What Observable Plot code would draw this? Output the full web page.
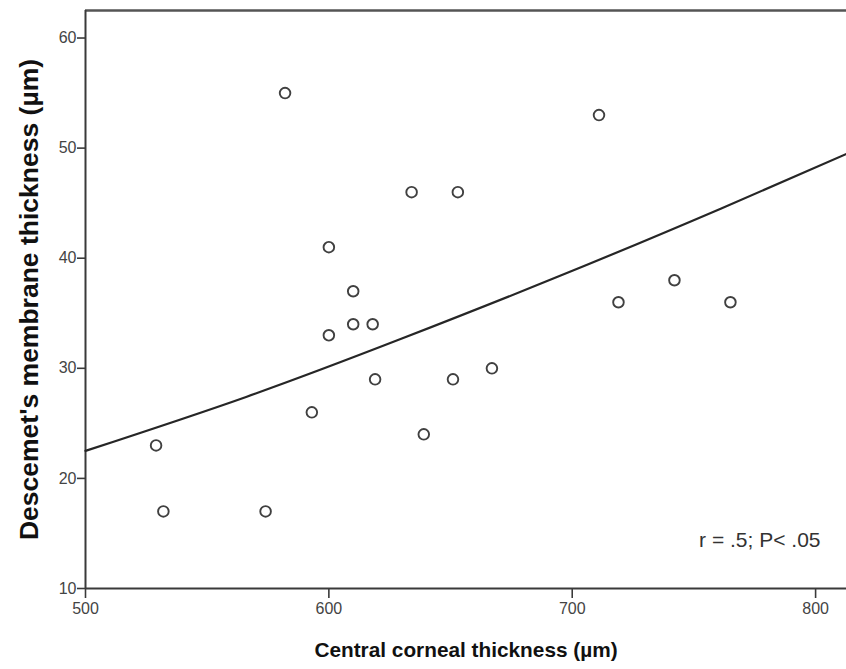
<!DOCTYPE html>
<html>
<head>
<meta charset="utf-8">
<script src="https://cdn.jsdelivr.net/npm/d3@7"></script>
<script src="https://cdn.jsdelivr.net/npm/@observablehq/plot@0.6"></script>
<style>
  html, body { margin: 0; padding: 0; background: #fff; }
  #chart svg { display: block; }
  #chart svg g[aria-label="x-axis tick label"],
  #chart svg g[aria-label="y-axis tick label"] { font-size: 16px; }
</style>
</head>
<body>
<div id="chart"></div>
<script>
// Scatter points: central corneal thickness (µm) vs Descemet's membrane thickness (µm)
const cct = [529, 532, 574, 582, 593, 600, 600, 610, 610, 618, 619, 634, 639, 651, 653, 667, 711, 719, 742, 765];
const dmt = [23, 17, 17, 55, 26, 41, 33, 37, 34, 34, 29, 46, 24, 29, 46, 30, 53, 36, 38, 36];

// Fit curve
const fitX = [500, 566, 630, 695, 761, 813];
const fitY = [22.5, 27.4, 32.7, 38.4, 44.5, 49.5];

const xTicks = [500, 600, 700, 800];
const yTicks = [10, 20, 30, 40, 50, 60];
const xDomain = [500, 812.7];
const yDomain = [10, 62.5];

const xLabel = "Central corneal thickness (µm)";
const yLabel = "Descemet's membrane thickness (µm)";
const note = "r = .5; P< .05";

const points = cct.map((x, i) => ({x, y: dmt[i]}));
const fit = fitX.map((x, i) => ({x, y: fitY[i]}));

const ink = "#3a3a3a";
const sans = "'Liberation Sans', Arial, sans-serif";

const chart = Plot.plot({
  width: 846,
  height: 669,
  marginLeft: 85,
  marginTop: 10,
  marginRight: 0,
  marginBottom: 81,
  style: {background: "#fff", color: ink, fontFamily: sans, fontSize: "16px"},
  x: {domain: xDomain},
  y: {domain: yDomain},
  marks: [
    Plot.axisY({ticks: yTicks, tickSize: 8, tickPadding: 1, tickFormat: d => d, fontSize: 16, fill: "#444", label: null, stroke: ink, strokeWidth: 1.6}),
    Plot.axisX({ticks: xTicks, tickSize: 10, tickPadding: 4, tickFormat: d => d, fontSize: 16, fill: "#444", label: null, stroke: ink, strokeWidth: 1.6}),
    Plot.ruleY([yDomain[0]], {stroke: ink, strokeWidth: 2}),
    Plot.ruleY([yDomain[1]], {stroke: "#555", strokeWidth: 2.5}),
    Plot.ruleX([xDomain[0]], {stroke: ink, strokeWidth: 2}),
    Plot.line(fit, {x: "x", y: "y", curve: "natural", stroke: "#262626", strokeWidth: 2.2}),
    Plot.dot(points, {x: "x", y: "y", r: 5.3, stroke: "#404040", strokeWidth: 1.9, fill: "none"}),
    Plot.text([note], {frameAnchor: "bottom-right", dx: -26, dy: -48, lineAnchor: "middle", textAnchor: "end", fontSize: 21, fill: "#333", fontFamily: sans}),
    Plot.text([yLabel], {frameAnchor: "left", dx: -56, rotate: -90, textAnchor: "middle", lineAnchor: "middle", fontSize: 26.5, fontWeight: "bold", fill: "#111", fontFamily: sans}),
    Plot.text([xLabel], {frameAnchor: "bottom", dy: 62, textAnchor: "middle", lineAnchor: "middle", fontSize: 20.8, fontWeight: "bold", fill: "#111", fontFamily: sans})
  ]
});
document.getElementById("chart").appendChild(chart);
</script>
</body>
</html>
